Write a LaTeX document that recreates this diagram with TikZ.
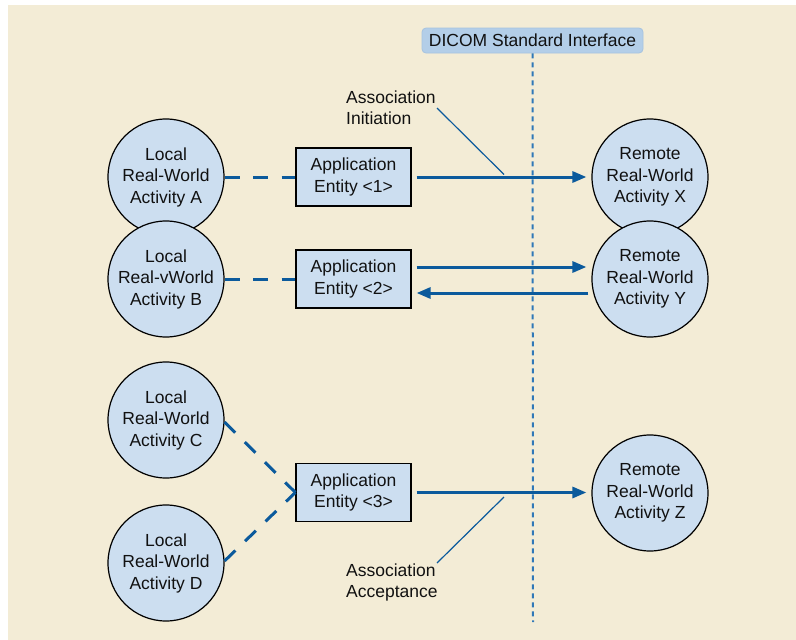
\documentclass[tikz,border=0pt]{standalone}
\usepackage{fontspec}
\setmainfont{Liberation Sans}
\usetikzlibrary{arrows.meta,calc}
\definecolor{bgcream}{HTML}{F3ECD6}
\definecolor{nodeblue}{HTML}{CCDEF0}
\definecolor{hdrblue}{HTML}{B3CEE8}
\definecolor{hdredge}{HTML}{A6C3E0}
\definecolor{linkblue}{HTML}{0B5A9C}
\definecolor{dotblue}{HTML}{2F78B8}
\definecolor{txt}{HTML}{111111}
\tikzset{
  every node/.style={font=\fontsize{17.5}{21.5}\selectfont, text=txt},
  activity/.style={circle, draw=black, line width=1.2pt, fill=nodeblue, minimum size=116pt, inner sep=0pt, align=center},
  aebox/.style={rectangle, draw=black, line width=1.2pt, fill=nodeblue, minimum width=115pt, minimum height=58pt, inner sep=0pt, align=center},
  hdr/.style={rectangle, rounded corners=4pt, draw=hdredge, line width=0.8pt, fill=hdrblue, minimum width=221pt, minimum height=25pt, inner sep=0pt},
  lbl/.style={align=left, inner sep=0pt},
  assoc/.style={draw=linkblue, line width=3pt, -{Triangle[length=14pt,width=11pt]}, shorten <=5pt, shorten >=5pt},
  locallink/.style={draw=linkblue, line width=3pt, dash pattern=on 15pt off 13.5pt},
  leader/.style={draw=linkblue, line width=1.2pt},
  iface/.style={draw=dotblue, line width=2pt, dash pattern=on 5pt off 4pt}
}
\begin{document}
\begin{tikzpicture}[x=1pt,y=-1pt]
\useasboundingbox (0,0) rectangle (796,640);
\fill[bgcream] (8,5) rectangle (796,640);

% interface header and line
\node[hdr] (dicom) at (532.5,40.5) {DICOM Standard Interface};
\coordinate (ifaceend) at (533,622);
\draw[iface] (dicom.south) -- (ifaceend);

% local activities
\node[activity] (la) at (166,177) {Local\\Real-World\\Activity A};
\node[activity] (lb) at (166,279) {Local\\Real-vWorld\\Activity B};
\node[activity] (lc) at (166,420) {Local\\Real-World\\Activity C};
\node[activity] (ld) at (166,563) {Local\\Real-World\\Activity D};

% application entities
\node[aebox] (ae1) at (353.5,177) {Application\\Entity <1>};
\node[aebox] (ae2) at (353.5,279) {Application\\Entity <2>};
\node[aebox] (ae3) at (353.5,492.5) {Application\\Entity <3>};

% remote activities
\node[activity] (rx) at (650,177) {Remote\\Real-World\\Activity X};
\node[activity] (ry) at (650,279) {Remote\\Real-World\\Activity Y};
\node[activity] (rz) at (650,493) {Remote\\Real-World\\Activity Z};

% local links
\draw[locallink] (la.east) -- (ae1.west);
\draw[locallink] (lb.east) -- (ae2.west);
\draw[locallink] (lc.{-2}) -- (ae3.west);
\draw[locallink] (ld.{2}) -- (ae3.west);

% associations
\draw[assoc] (ae1.east) -- (rx.west);
\draw[assoc] ([yshift=12pt]ae2.east) -- ([yshift=12pt]ae2.east -| ry.west);
\draw[assoc, shorten >=5pt, shorten <=3pt] ([yshift=-14pt]ae2.east -| ry.west) -- ([yshift=-14pt]ae2.east);
\draw[assoc] (ae3.east) -- (ae3.east -| rz.west);

% labels
\node[lbl, anchor=west] (initlbl) at (346,107.5) {Association\\Initiation};
\node[lbl, anchor=west] (acclbl) at (346,582.5) {Association\\Acceptance};
\coordinate (initA) at (437,108);
\coordinate (initB) at (504,174.5);
\coordinate (accA) at (437,563);
\coordinate (accB) at (504,497);
\draw[leader] (initA) -- (initB);
\draw[leader] (accA) -- (accB);
\end{tikzpicture}
\end{document}
